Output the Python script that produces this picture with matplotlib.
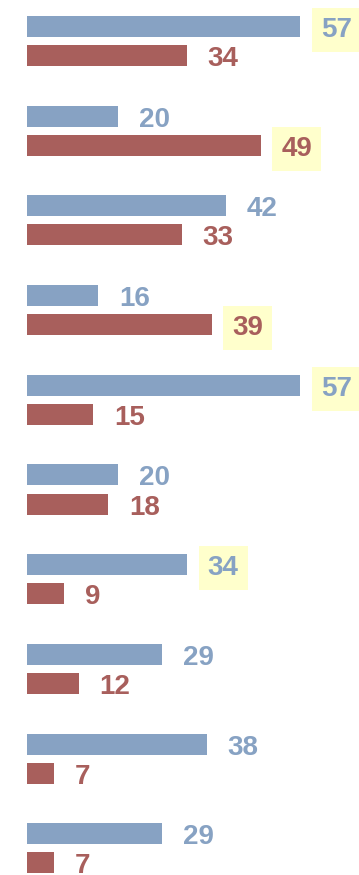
import matplotlib
matplotlib.use("Agg")
import matplotlib.pyplot as plt
import numpy as np

# Paired values per row: first series (blue, top bar) and second series (red, bottom bar)
series_a = [57, 20, 42, 16, 57, 20, 34, 29, 38, 29]
series_b = [34, 49, 33, 39, 15, 18, 9, 12, 7, 7]
# Values called out with a highlight box
highlight_a = [True, False, False, False, True, False, True, False, False, False]
highlight_b = [False, True, False, True, False, False, False, False, False, False]

color_a = "#87A2C3"
color_b = "#A85F5C"
highlight_color = "#FFFFCC"

W, H, DPI = 359, 875, 100
fig = plt.figure(figsize=(W / DPI, H / DPI), dpi=DPI)
left_px = 27
ax = fig.add_axes([left_px / W, 0, 1 - left_px / W, 1])
ax.set_axis_off()

px_per_unit = 4.92
x_min = 1.5
ax.set_xlim(x_min, x_min + (W - left_px) / px_per_unit)

group_px = 89.7
ax.set_ylim((H - 41) / group_px, -41 / group_px)

idx = np.arange(len(series_a))
offset = 0.162
bar_h = 0.234

ax.barh(idx - offset, series_a, height=bar_h, color=color_a, left=0)
ax.barh(idx + offset, series_b, height=bar_h, color=color_b, left=0)


def label(value, y, color, boxed):
    kw = {}
    if boxed:
        kw["bbox"] = dict(boxstyle="square,pad=0.33", fc=highlight_color, ec="none")
    ax.annotate(str(value), xy=(value, y), xytext=(15, -2.5), textcoords="offset points",
                ha="left", va="center", fontsize=20, fontweight="bold",
                family="Liberation Sans", color=color, annotation_clip=False, **kw)


for i in idx:
    label(series_a[i], i - offset, color_a, highlight_a[i])
    label(series_b[i], i + offset, color_b, highlight_b[i])

fig.savefig("out.png", dpi=DPI)
